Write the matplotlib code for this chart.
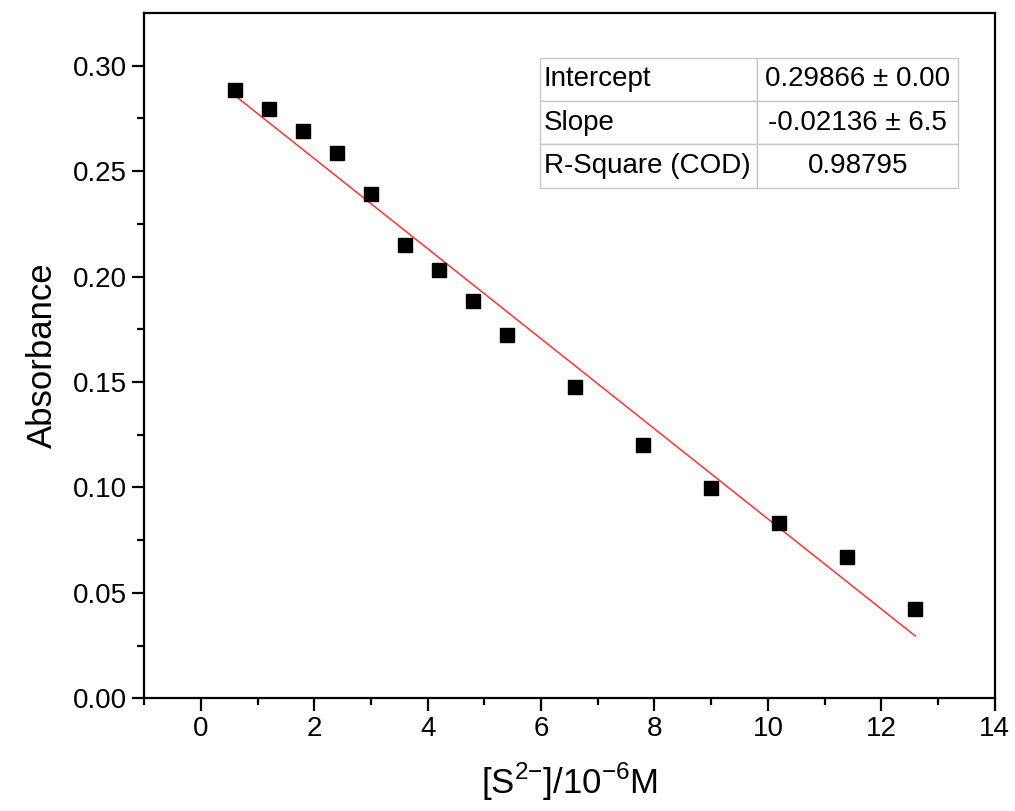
import matplotlib.pyplot as plt
import numpy as np

plt.rcParams['font.family'] = ['Liberation Sans', 'DejaVu Sans']

# data
conc = [0.6, 1.2, 1.8, 2.4, 3.0, 3.6, 4.2, 4.8, 5.4, 6.6, 7.8, 9.0, 10.2, 11.4, 12.6]
absorbance = [0.2886, 0.2796, 0.2692, 0.2588, 0.2393, 0.2152, 0.2033, 0.1882,
              0.1725, 0.1474, 0.1199, 0.0995, 0.0829, 0.0668, 0.0422]
intercept = 0.29866
slope = -0.02136

table_rows = [["Intercept", "0.29866 ± 0.00"],
              ["Slope", "-0.02136 ± 6.5"],
              ["R-Square (COD)", "0.98795"]]

fig = plt.figure(figsize=(10.15, 8.11), dpi=100)
ax = fig.add_axes([0.142, 0.139, 0.838, 0.845])

ax.plot(conc, absorbance, 's', color='black', markersize=10, zorder=3)
xfit = np.array([conc[0], conc[-1]])
ax.plot(xfit, intercept + slope * xfit, color='#ff3333', linewidth=1.1, zorder=2)

ax.set_xlim(-1, 14)
ax.set_ylim(0, 0.325)
ax.set_xticks(np.arange(0, 15, 2))
ax.set_xticks(np.arange(-1, 14.5, 2), minor=True)
ax.set_yticks(np.arange(0, 0.31, 0.05))
ax.set_yticks(np.arange(0, 0.325, 0.025), minor=True)
ax.yaxis.set_major_formatter(plt.FormatStrFormatter('%.2f'))

for s in ax.spines.values():
    s.set_linewidth(1.6)
ax.tick_params(which='major', direction='out', length=9, width=1.6, labelsize=20)
ax.tick_params(which='minor', direction='out', length=5, width=1.6)
ax.tick_params(top=False, right=False, which='both')

ax.set_xlabel(r'[S$^{\mathregular{2{-}}}$]/10$^{\mathregular{{-}6}}$M', fontsize=25, labelpad=14)
ax.set_ylabel('Absorbance', fontsize=25, labelpad=10)

tbl = ax.table(cellText=table_rows, bbox=[0.465, 0.745, 0.492, 0.19],
               colWidths=[0.52, 0.48], cellLoc='left')
tbl.auto_set_font_size(False)
tbl.set_fontsize(20)
for (r, c), cell in tbl.get_celld().items():
    cell.set_edgecolor('#c8c8c8')
    cell.set_linewidth(1.0)
    cell.PAD = 0.02
    if c == 1:
        cell.get_text().set_ha('center')
        cell._loc = 'center'

plt.savefig('out.png', dpi=100)
plt.close()
